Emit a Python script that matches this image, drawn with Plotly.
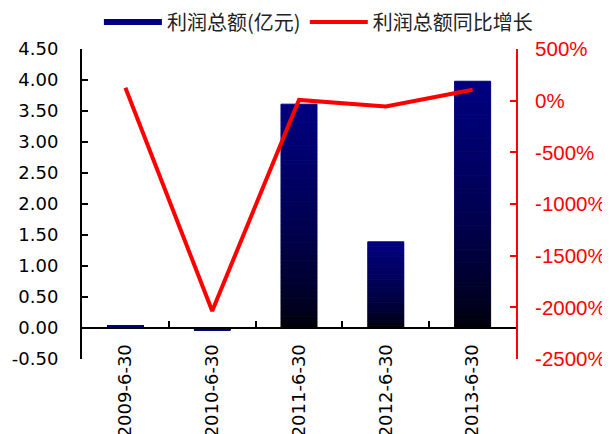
import plotly.graph_objects as go

# ---- data ----
categories = ["2009-6-30", "2010-6-30", "2011-6-30", "2012-6-30", "2013-6-30"]
profit_total = [0.04, -0.03, 3.61, 1.39, 3.98]          # 利润总额(亿元)
profit_growth_pct = [125, -2035, 7, -56, 105]           # 利润总额同比增长 (%)
left_tickvals = [-0.5, 0, 0.5, 1, 1.5, 2, 2.5, 3, 3.5, 4, 4.5]
left_ticktext = ["-0.50", "0.00", "0.50", "1.00", "1.50", "2.00", "2.50", "3.00", "3.50", "4.00", "4.50"]
right_tickvals = [-2500, -2000, -1500, -1000, -500, 0, 500]
right_ticktext = ["-2500%", "-2000%", "-1500%", "-1000%", "-500%", "0%", "500%"]

name_bar = "利润总额(亿元)"
name_line = "利润总额同比增长"

# ---- gradient bars: stack N slices of each bar, black at bottom -> navy at top ----
N = 60
fig = go.Figure()
for k in range(N):
    t = (k + 0.5) / N
    b = int(round(128 * (t ** 0.6)))
    col = f"rgb(0,0,{b})"
    fig.add_trace(go.Bar(
        x=categories,
        y=[v / N for v in profit_total],
        marker=dict(color=col, line=dict(width=1, color=col)),
        showlegend=False,
        hoverinfo="skip",
        yaxis="y",
    ))

# legend proxy for bars
fig.add_trace(go.Scatter(
    x=[None], y=[None], mode="lines", name=name_bar,
    line=dict(color="#000080", width=6), yaxis="y", legend="legend",
))

fig.add_trace(go.Scatter(
    x=categories, y=profit_growth_pct, mode="lines", name=name_line,
    line=dict(color="#FF0000", width=4), yaxis="y2", legend="legend2",
))

legend_font = dict(family="Noto Sans CJK SC", size=20, color="#222222")

# page body has an 8px default margin, so the figure is sized 602x426
fig.update_layout(
    width=602, height=426,
    margin=dict(l=74, r=94, t=41, b=75, autoexpand=False),
    paper_bgcolor="white", plot_bgcolor="white",
    barmode="relative", bargap=0.585,
    showlegend=True,
    legend=dict(
        orientation="h", xref="container", yref="container",
        x=0.151, xanchor="left", y=0.967, yanchor="middle",
        font=legend_font, itemwidth=58, bgcolor="rgba(0,0,0,0)",
    ),
    legend2=dict(
        orientation="h", xref="container", yref="container",
        x=0.493, xanchor="left", y=0.967, yanchor="middle",
        font=legend_font, itemwidth=58, bgcolor="rgba(0,0,0,0)",
    ),
    xaxis=dict(
        type="category", anchor="free", position=0.1, automargin=False,
        showline=True, linecolor="black", linewidth=2,
        ticks="inside", tickson="boundaries", ticklen=6, tickwidth=2, tickcolor="black",
        tickangle=-90, showgrid=False, zeroline=False,
        tickfont=dict(family="DejaVu Sans", size=18, color="black"),
        ticklabelstandoff=8,
    ),
    yaxis=dict(
        range=[-0.5, 4.5], tickmode="array", tickvals=left_tickvals, ticktext=left_ticktext,
        automargin=False,
        showline=True, linecolor="black", linewidth=2,
        ticks="inside", ticklen=6, tickwidth=2, tickcolor="black",
        showgrid=False, zeroline=False,
        tickfont=dict(family="DejaVu Sans", size=18, color="black"),
        ticklabelstandoff=18,
    ),
    yaxis2=dict(
        overlaying="y", side="right", range=[-2500, 500],
        tickmode="array", tickvals=right_tickvals, ticktext=right_ticktext,
        automargin=False,
        showline=True, linecolor="#FF0000", linewidth=2,
        ticks="inside", ticklen=6, tickwidth=2, tickcolor="#FF0000",
        showgrid=False, zeroline=False,
        tickfont=dict(family="Liberation Sans", size=20.5, color="#FF0000"),
        ticklabelstandoff=13,
    ),
)

fig.write_html("out.html")
